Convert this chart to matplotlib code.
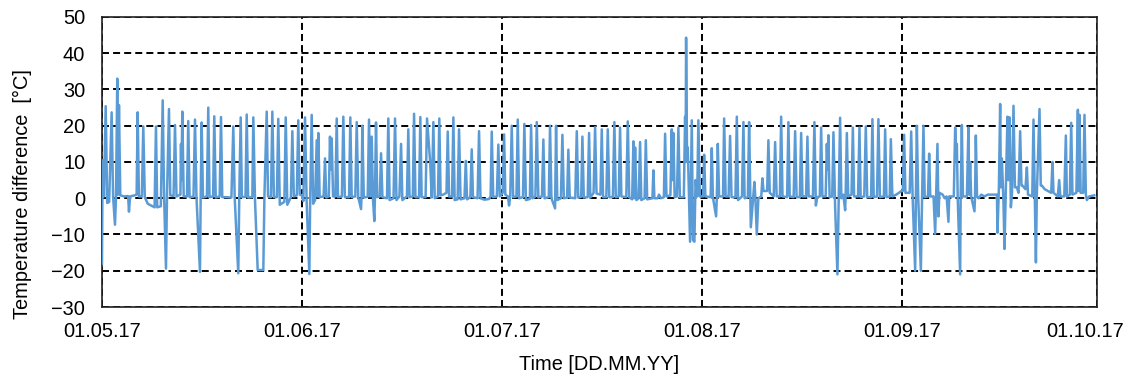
import matplotlib
matplotlib.use("Agg")
import matplotlib.pyplot as plt
import matplotlib.transforms as mtransforms
import numpy as np

plt.rcParams['font.family'] = ['Liberation Sans', 'DejaVu Sans']

may_x = [0.0, 0.1, 0.3, 0.57, 0.8, 1.1, 1.48, 1.7, 1.99, 2.15, 2.34, 2.45, 2.60, 2.8, 3.4, 4.0,
         4.13, 4.3, 5.0, 5.3, 5.46, 5.65, 6.1, 6.32, 6.55, 7.0, 7.5, 8.05, 8.26, 8.45, 9.0, 9.29,
         9.5, 9.79, 9.95, 10.25, 10.45, 10.95, 11.17, 11.4, 12.0, 12.09, 12.15, 12.29, 12.5, 13.0,
         13.2, 13.4, 14.0, 14.23, 14.45, 14.99, 15.1, 15.25, 15.45, 16.05, 16.26, 16.45, 17.0,
         17.18, 17.4, 18.0, 18.21, 18.4, 19.0, 19.8, 20.09, 20.3, 20.85, 21.0, 21.22, 21.4, 21.95,
         22.14, 22.35, 23.0, 23.15, 23.4, 23.82, 24.68, 24.85, 25.2, 25.4, 25.85, 26.06, 26.3,
         26.75, 26.97, 27.2, 27.9, 28.11, 28.35, 28.9, 29.12, 29.35, 29.8, 30.03, 30.25]
may_y = [-18, 10.5, 0.5, 25.4, -1.3, -1.0, 23.7, 0.5, -7.3, 0.5, 33, 1.0, 25.7, 0.8, 0.5, 0.6,
         -3.7, 0.5, 0.8, 1.0, 23.7, 0.5, 0.5, 19.8, 0.3, -1.5, -2.0, -2.5, 19.8, -2.5, -2.2, 27,
         0.8, -19.4, 1.0, 24.6, 0.8, 0.6, 20.2, 0.5, 1.0, 15, 5, 23.9, 0.5, 0.5,
         21.3, 0.3, 0.4, 21.7, 0.5, -20.3, 0.5, 20.9, 0.2, 0.5, 25, 0.3, 0.5,
         22.6, 0.2, 0.5, 22.4, 0.3, 0.3, 0.2, 19.8, 0.3, -20.7, 0.3, 22.3, 0.3, 0.4,
         23.1, 0.2, 0.3, 22.3, 0.0, -19.8, -19.8, 0.5, 23.9, 0.5, 0.3, 23.9, 0.3,
         0.3, 21.9, -1.8, -1.0, 22.3, -1.8, 0.3, 18.5, 0.5, 0.8, 21.5, 1.0]

jun_x = [30.6, 30.8, 31.06, 31.3, 31.72, 31.85, 32.08, 32.3, 32.6, 32.85, 33.0, 33.09, 33.3, 33.9,
         34.12, 34.3, 34.7, 34.88, 35.0, 35.14, 35.35, 35.7, 35.91, 36.1, 36.7, 36.92, 37.15, 37.8,
         37.99, 38.2, 38.75, 38.97, 39.2, 39.63, 39.7, 39.83, 40.05, 40.65, 40.85, 41.05, 41.26,
         41.45, 41.66, 41.75, 41.92, 42.1, 42.5, 42.69, 42.9, 43.6, 43.8, 44.0, 44.6, 44.83, 45.05,
         45.5, 45.75, 45.95, 46.65, 46.86, 47.05, 47.55, 47.74, 47.95, 48.5, 48.70, 48.9, 49.5,
         49.72, 50.2, 50.45, 50.69, 50.9, 51.4, 51.6, 51.8, 52.2, 52.7, 52.89, 53.1, 53.55, 53.75,
         53.95, 54.4, 54.62, 54.85, 55.45, 55.65, 55.85, 56.35, 56.56, 56.75, 57.45, 57.68, 57.9,
         58.5, 59.2, 59.45, 59.62, 59.85, 60.4, 60.63, 60.85]
jun_y = [0.8, -0.8, 22.3, -0.5, -20.9, 0.0, 23, -1.5, -0.5, 16, 0.5, 18, 0.3, 0.5,
         11, 0.2, 0.5, 17, 8, 16.5, 0.5, 0.5, 22, 0.3, 0.5, 22.5, 0.3, 0.3,
         22.3, 0.3, 0.5, 21, 0.3, -3, 0.5, 20, 0.2, 0.4, 21.7, 0.5, 17,
         0.0, -6.3, 0.0, 20.9, 0.3, 0.5, 12.4, 0.3, 0.0, 22, -0.5, 0.0, 22, -0.5,
         0.5, 15, -0.5, 0.5, 19, 0.3, 0.5, 23.3, 0.3, 0.3, 22.4, 0.3, 0.3,
         22, 10, 0.2, 21, 0.0, 0.5, 22, 0.8, 1.0, 1.5, 18.4, 0.5, 0.5, 22.3,
         -0.5, -0.3, 19, -0.3, 0.0, 10.3, -0.3, 0.3, 13.5, 0.3, 0.0, 18.5, 0.0,
         -0.4, -0.2, 0.5, 18.4, 0.3, 0.5, 14.8, 0.5]

jul_x = [61.3, 61.51, 61.7, 62.1, 62.27, 62.45, 62.68, 62.9, 63.4, 63.6, 63.8, 64.4, 64.61, 64.85,
         65.45, 65.64, 65.85, 66.3, 66.51, 66.75, 67.3, 67.52, 67.7, 68.35, 68.54, 68.75, 69.31,
         69.46, 69.65, 70.2, 70.43, 70.65, 71.15, 71.34, 71.55, 72.4, 72.63, 72.85, 73.3, 73.49,
         73.7, 74.3, 74.51, 74.7, 75.2, 75.43, 75.65, 76.25, 76.45, 76.65, 77.15, 77.37, 77.6,
         78.15, 78.38, 78.6, 79.05, 79.25, 79.45, 80.2, 80.43, 80.65, 81.1, 81.29, 81.42, 81.55,
         81.75, 82.1, 82.31, 82.5, 83.0, 83.19, 83.4, 84.2, 84.35, 84.5, 85.0, 85.2, 85.5, 85.95,
         86.14, 86.35, 86.95, 87.16, 87.28, 87.41, 87.6, 87.95, 88.17, 88.4, 89.0, 89.2, 89.28,
         89.35, 89.5, 89.61, 89.96, 90.22, 90.4, 90.62, 90.8, 91.05, 91.23, 91.45]
jul_y = [1.5, 17.6, 1.0, 0.5, -2, 0.5, 20, 0.3, 0.5, 21.7, 0.0, 0.3, 20.5, -0.5,
         -0.2, 20.2, 0.0, 0.5, 21, 0.2, 0.5, 16.2, 0.0, 0.3, 20, 0.0, -2.8,
         20, -0.5, 0.0, 17.5, 0.0, 0.2, 13.4, 0.2, 0.0, 18.5, 0.2, 0.4, 17,
         0.2, 0.3, 18, 0.2, 1.5, 19.6, 1.3, 1.0, 19, 0.3, 0.3, 19, 0.3,
         0.3, 21, 0.3, 0.5, 19.5, 0.5, 0.3, 21.2, 0.3, -0.3, 15.7, 0.0, 14,
         -0.5, 0.0, 15.5, -0.5, 0.0, 16, -0.3, 0.0, 7.7, 0.0, 0.0, 1.0, 0.0, 0.3,
         17.8, 0.5, 0.8, 19, 5, 18, 0.3, 0.5, 19.5, 0.3, 0.3, 22.5, 10,
         44.3, 10, 14, -12, 21.5, -11.5, -12, 5, 0.5, 21.5, 0.5]

aug_x = [91.95, 92.11, 92.3, 93.1, 93.28, 93.45, 93.94, 94.05, 94.2, 94.4, 95.0, 95.17, 95.4,
         95.85, 96.08, 96.3, 96.9, 97.11, 97.3, 97.9, 98.12, 98.3, 98.8, 98.99, 99.25, 99.6, 99.8,
         99.95, 100.17, 100.4, 100.85, 101.02, 101.2, 101.75, 101.94, 102.15, 102.75, 102.97,
         103.2, 103.7, 103.89, 104.1, 104.8, 105.0, 105.2, 105.8, 106.03, 106.25, 106.75, 106.95,
         107.15, 107.7, 107.91, 108.1, 108.75, 108.98, 109.2, 109.4, 109.8, 110.01, 110.2, 110.7,
         110.88, 111.0, 111.12, 111.3, 111.7, 111.89, 112.15, 112.5, 112.7, 112.91, 113.1, 113.4,
         113.68, 113.75, 113.94, 114.15, 114.65, 114.86, 115.05, 115.65, 115.87, 116.05, 116.6,
         116.84, 117.05, 117.65, 117.85, 118.05, 118.55, 118.77, 119.0, 119.6, 119.8, 120.0,
         120.5, 120.67, 120.9, 121.5, 122.3]
aug_y = [0.5, 12, 0.5, 0.3, 13.8, 0.3, -5, 0.3, 15, 0.5, 0.5, 22, 0.5,
         0.5, 17.2, 0.3, 0.3, 22.5, -0.5, 0.5, 21, 0.0, 0.3, 21, -8, 0.0, 4.5,
         0.0, -10, 0.0, 0.5, 5.5, 2.0, 2.0, 16, 1.5, 0.5, 15.5,
         0.5, 0.5, 22.5, 0.5, 0.3, 21, 0.5, 0.3, 18.5, 0.3, 0.3, 18,
         0.5, 0.5, 17, 0.5, 0.5, 21, -2, 0.3, 0.5, 19.5, 0.5, 0.5,
         15, 8, 17.4, 0.3, 0.5, 18.2, -2.5, -21, 0.0, 22.2, 0.0, 1.0,
         -3.3, 0.5, 18, 0.5, 1.0, 19.5, 0.5, 0.5, 19.5, 0.3, 0.5,
         19.8, 0.3, 0.3, 21.8, 0.3, 0.5, 21.8, 0.3, 0.5, 19, 0.3,
         0.5, 16.3, 0.5, 1.0, 2.0]

sep_x = [122.5, 122.7, 122.9, 123.55, 123.78, 124.0, 124.39, 124.5, 124.65, 124.85, 125.26,
         125.45, 125.66, 125.85, 126.35, 126.53, 126.7, 127.2, 127.45, 127.6, 127.8, 127.95,
         128.1, 128.6, 128.9, 129.2, 129.48, 129.6, 130.3, 130.51, 130.6, 130.77, 130.9, 131.27,
         131.35, 131.53, 131.7, 132.3, 132.54, 132.65, 132.8, 132.95, 133.46, 133.55, 133.67,
         133.85, 134.1, 134.5, 135.0, 135.5, 136.0, 136.9, 136.98, 137.2, 137.39, 137.5, 137.65,
         137.9, 138.05, 138.25, 138.51, 138.65, 138.82, 139.03, 139.2, 139.43, 139.65, 139.95,
         140.2, 140.45, 140.65, 140.8, 141.25, 141.48, 141.65, 142.3, 142.49, 142.7, 142.86,
         143.0, 143.41, 143.6, 143.77, 144.2, 144.7, 145.2, 145.39, 145.55, 146.2, 146.42, 146.6,
         147.2, 147.44, 147.6, 148.05, 148.26, 148.45, 149.05, 149.28, 149.4, 149.53, 149.7,
         150.1, 150.29, 150.5, 150.66, 151.0, 151.78]
sep_y = [2.0, 17.5, 1.5, 1.5, 18.4, 0.5, -20, 0.5, 20, 0.5, -20,
         0.5, 20, 0.3, 0.5, 12.3, 0.5, 0.5, -9.8, 1.0, 15, -5,
         1.5, 1.0, 0.0, 0.5, -6.5, 0.5, 0.5, 19.5, 15, 15, 0.0, -21,
         0.5, 20.2, 0.5, 0.5, 19.5, 1.0, 10, 0.5, -3.6, 0.5, 17.3,
         0.5, 0.0, 1.0, 0.5, 1.0, 1.0, 1.0, -9.5, 3, 26, 3, 11,
         -1, -14, 1.5, 22.5, 5, 22.3, -2.5, 1.5, 25.5, 3, 3,
         1.5, 18.5, 3.5, 3.5, 2.5, 8.5, 1.0, 0.5, 21.7, -1, -17.7,
         1.0, 24.6, 3.5, 3.5, 2.5, 2.0, 1.5, 10, 1.5, 0.5, 5, 0.5,
         0.5, 17.3, 0.5, 1.0, 20.8, 1.0, 1.5, 24.4, 2, 23, 1.5,
         1.5, 23, 1.0, -0.5, 0.5, 0.8]

tick_days = [0, 30.6, 61.2, 91.8, 122.4, 152.2]
tick_labels = ['01.05.17', '01.06.17', '01.07.17', '01.08.17', '01.09.17', '01.10.17']

days = np.concatenate([may_x, jun_x, jul_x, aug_x, sep_x])
temp_diff = np.concatenate([may_y, jun_y, jul_y, aug_y, sep_y])

fig = plt.figure(figsize=(11.33, 3.8), dpi=100)
ax = fig.add_axes([0.0900, 0.1921, 0.8782, 0.7632])

ax.plot(days, temp_diff, color='#5B9BD5', linewidth=1.8, zorder=3)

ax.set_xlim(0, 152.2)
ax.set_ylim(-30, 50)
ax.set_yticks(np.arange(-30, 51, 10))
ax.set_xticks(tick_days)
ax.set_xticklabels(tick_labels)

ax.grid(True, color='black', linestyle=(0, (3.6, 2.1)), linewidth=1.4, zorder=1)
ax.tick_params(axis='both', length=0, labelsize=14.4, colors='black')
ax.tick_params(axis='y', pad=12)
ax.tick_params(axis='x', pad=11)
for sp in ax.spines.values():
    sp.set_color('#202020')
    sp.set_linewidth(1.2)

# Excel pulls the last date label inward so it stays inside the picture
last = ax.get_xticklabels()[-1]
last.set_transform(last.get_transform() + mtransforms.ScaledTranslation(-12 / 100, 0, fig.dpi_scale_trans))

ax.set_xlabel('Time [DD.MM.YY]', fontsize=14.4, labelpad=10)
ax.set_ylabel('Temperature difference  [°C]', fontsize=14.4)
ax.yaxis.set_label_coords(-0.070, 0.39)

fig.savefig('out.png', dpi=100)
